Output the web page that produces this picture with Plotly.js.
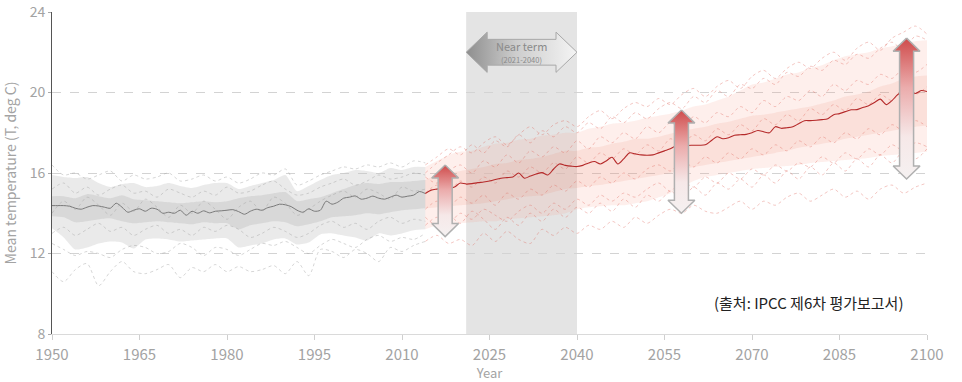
<!DOCTYPE html>
<html>
<head>
<meta charset="utf-8">
<script src="https://cdn.plot.ly/plotly-3.0.1.min.js"></script>
<style>html,body{margin:0;padding:0;background:#fff;}#chart{width:962px;height:382px;}</style>
</head>
<body>
<div id="chart"></div>
<script>
// ---------- DATA ----------
const xTickVals = [1950, 1965, 1980, 1995, 2010, 2025, 2040, 2055, 2070, 2085, 2100];
const yTickVals = [8, 12, 16, 20, 24];

const histStartYear = 1950;   // yearly mean, historical
const histMean = [14.38,14.38,14.38,14.35,14.25,14.2,14.3,14.38,14.36,14.3,
  14.25,14.5,14.3,14.05,14.15,14.22,14.1,14.25,14.2,14.0,
  14.05,14.0,14.15,13.9,14.1,14.0,14.12,14.02,14.1,14.12,
  14.15,14.18,14.08,13.95,14.1,14.2,14.15,14.28,14.35,14.45,
  14.42,14.33,14.15,14.05,14.22,14.1,14.15,14.6,14.45,14.55,
  14.75,14.8,14.86,14.7,14.75,14.85,14.75,14.7,14.8,14.9,
  14.8,14.85,14.9,15.08,14.98];

const futStartYear = 2014;    // yearly mean, projection
const futMean = [14.98,15.15,15.2,15.24,15.22,15.3,15.5,15.45,15.47,15.52,15.55,
  15.6,15.68,15.74,15.77,15.8,16.0,15.74,15.85,15.95,16.02,
  15.9,16.2,16.45,16.38,16.34,16.32,16.38,16.5,16.57,16.45,
  16.6,16.78,16.45,16.7,17.0,16.95,16.9,16.88,16.9,17.0,
  17.1,17.2,17.35,17.38,17.37,17.38,17.38,17.4,17.6,17.8,
  17.7,17.75,17.88,17.9,17.92,18.0,18.11,18.05,18.0,18.3,
  18.22,18.25,18.3,18.45,18.6,18.6,18.62,18.65,18.7,18.9,
  18.95,19.05,19.14,19.15,19.25,19.34,19.5,19.67,19.4,19.6,
  19.9,20.05,20.1,19.95,20.1,20.05];

// historical bands, every 2 years from 1950
const histOuterUp = [15.9,15.8,15.75,15.8,15.5,15.3,15.45,15.5,15.3,15.35,15.5,15.35,15.25,15.4,15.5,15.5,15.2,15.35,15.5,15.65,15.9,15.1,15.35,15.65,15.9,16.0,16.15,16.1,16.0,16.25,16.15,16.3,16.3];
const histOuterLo = [13.25,12.8,12.2,12.3,12.5,12.6,12.55,12.25,12.7,12.75,12.7,12.6,12.65,12.7,12.75,12.75,12.3,12.4,12.5,12.7,12.75,12.45,12.55,12.95,13.0,12.9,12.8,12.65,13.0,12.9,13.0,13.15,13.2];
const histInnerUp = [14.85,14.85,14.75,14.95,14.85,14.75,14.9,14.7,14.65,14.6,14.55,14.5,14.55,14.6,14.55,14.6,14.75,14.85,14.9,15.0,15.05,14.6,14.7,14.8,15.0,15.2,15.4,15.5,15.45,15.55,15.55,15.6,15.65];
const histInnerLo = [13.85,13.8,13.55,13.6,13.7,13.75,13.6,13.5,13.55,13.6,13.55,13.5,13.45,13.55,13.5,13.5,13.2,13.4,13.5,13.6,13.55,13.35,13.45,13.6,13.8,13.85,13.9,14.0,13.95,14.05,14.15,14.2,14.25];

// projection bands, every 2 years from 2014
const futOuterUp = [16.3,16.6,16.9,17.05,17.1,17.3,17.45,17.5,17.65,17.7,17.85,17.9,18.0,18.0,18.2,18.3,18.45,18.5,18.6,18.75,18.85,18.95,19.1,19.3,19.4,19.6,19.8,20.1,20.4,20.5,20.7,20.9,21.0,21.2,21.35,21.6,21.8,21.9,22.0,22.2,22.3,22.45,22.55,22.6];
const futOuterLo = [13.2,13.4,13.45,13.5,13.55,13.6,13.6,13.7,13.75,13.8,13.85,13.9,14.0,14.2,14.3,14.35,14.4,14.4,14.5,14.6,14.8,15.0,15.3,15.6,15.8,15.9,16.0,16.1,16.2,16.25,16.3,16.35,16.4,16.5,16.55,16.6,16.65,16.7,16.75,16.85,16.9,16.95,17.0,17.05];
const futInnerUp = [15.65,15.9,16.0,16.1,16.2,16.3,16.45,16.5,16.65,16.7,16.8,16.95,17.1,17.1,17.25,17.3,17.45,17.55,17.7,17.7,17.8,17.95,18.1,18.2,18.3,18.45,18.55,18.7,18.85,18.9,19.0,19.1,19.2,19.3,19.45,19.6,19.8,19.9,20.05,20.3,20.45,20.7,20.8,20.85];
const futInnerLo = [14.25,14.3,14.35,14.4,14.45,14.5,14.6,14.7,14.8,14.85,14.9,15.05,15.2,15.25,15.35,15.4,15.5,15.6,15.7,15.8,15.9,16.0,16.2,16.3,16.4,16.5,16.6,16.7,16.8,16.9,17.0,17.1,17.25,17.35,17.45,17.55,17.7,17.8,17.9,18.0,18.1,18.2,18.3,18.35];

// individual model runs (every 2 years)
const histRuns = [
  [11.1,10.6,11.2,11.5,10.4,11.1,11.6,11.1,11.0,11.2,11.45,10.8,11.3,11.1,11.45,11.1,11.35,11.1,11.2,11.4,11.0,11.6,10.9,12.2,12.1,11.8,12.2,12.0,11.6,12.3,12.1,12.4,12.6],
  [12.5,12.2,11.9,12.1,12.0,11.8,12.2,12.4,12.3,12.0,12.1,12.5,12.3,11.9,12.3,12.2,11.9,12.2,12.5,12.4,12.6,12.3,12.0,12.4,12.7,12.5,12.3,12.7,12.9,12.6,12.8,12.7,13.0],
  [16.4,15.9,16.0,15.7,15.9,16.1,15.6,15.9,15.7,15.8,16.0,15.6,15.7,15.9,15.6,15.8,15.5,15.7,16.0,15.9,16.2,15.4,15.6,15.9,16.1,16.3,16.2,16.4,16.3,16.5,16.3,16.6,16.5],
  [15.2,15.5,15.0,15.3,14.9,15.2,15.4,15.0,15.1,14.8,15.2,15.0,14.8,15.1,14.9,15.3,15.0,15.1,15.4,15.6,15.2,14.9,15.0,15.3,15.5,15.7,15.4,15.6,15.9,15.7,15.8,16.0,15.9],
  [13.0,13.3,12.9,13.2,13.5,13.1,13.3,12.9,13.2,13.4,13.0,13.2,12.9,13.3,13.1,13.4,13.2,12.8,13.0,13.3,13.1,12.8,13.0,13.4,13.6,13.3,13.5,13.2,13.6,13.8,13.5,13.7,13.6],
  [14.0,14.6,14.2,14.8,14.4,13.9,14.5,14.1,14.7,14.3,13.8,14.4,14.0,14.6,14.2,13.7,14.3,14.6,14.1,14.8,14.5,13.9,14.2,14.6,14.9,15.1,14.8,15.2,15.0,14.7,15.3,15.1,15.2]
];
const futRuns = [
  [12.6,12.9,12.5,12.7,12.4,13.0,12.6,13.1,12.7,12.5,13.2,12.9,13.3,13.0,13.4,13.2,13.6,13.3,13.8,13.5,13.9,14.2,14.0,14.4,14.1,14.0,14.3,14.6,14.2,14.6,14.4,14.8,15.0,14.6,14.9,15.2,14.8,15.1,14.7,15.2,15.4,15.0,15.3,15.5],
  [13.4,13.8,13.5,14.0,13.7,14.2,13.9,13.6,14.1,14.4,14.0,14.5,14.2,14.7,14.4,14.9,14.6,15.0,14.8,15.2,15.5,15.1,15.6,15.3,15.8,15.5,16.0,15.7,16.2,15.9,16.4,16.1,16.5,16.3,16.8,16.5,17.0,16.7,17.2,16.9,17.4,17.1,17.5,17.3],
  [16.4,16.8,17.2,16.9,17.4,17.0,17.6,17.3,17.9,17.5,18.1,17.8,18.3,18.0,18.5,18.2,18.8,18.5,19.0,18.7,19.2,19.5,19.2,19.8,19.5,20.1,19.8,20.4,20.2,20.7,20.4,21.0,20.8,21.3,21.1,21.6,21.4,21.9,21.7,22.2,22.5,22.1,22.8,22.6],
  [16.0,16.5,16.9,17.3,17.0,17.5,17.8,17.4,17.9,18.3,17.9,18.4,18.6,18.3,18.8,19.1,18.7,19.2,19.5,19.3,19.7,19.4,19.9,20.2,19.8,20.3,20.6,20.2,20.8,21.1,20.7,21.2,21.5,21.2,21.7,22.0,21.6,22.2,22.5,22.1,22.7,23.0,23.3,22.9],
  [15.0,15.4,15.1,15.6,15.3,15.8,15.5,16.1,15.8,16.3,16.0,16.5,16.2,16.8,16.5,17.0,16.7,17.2,16.9,17.4,17.1,17.7,17.4,17.9,17.6,18.2,17.9,18.4,18.1,18.7,18.4,18.9,18.6,19.2,18.9,19.4,19.1,19.7,19.4,19.9,19.6,20.2,19.9,20.3],
  [15.8,15.5,16.1,16.4,16.0,16.6,16.3,16.9,16.5,17.1,16.8,17.3,17.0,17.6,17.2,17.8,17.5,18.0,17.7,18.3,18.0,18.5,18.2,18.8,18.5,19.0,18.8,19.3,19.0,19.6,19.3,19.8,19.6,20.1,19.8,20.4,20.1,20.6,20.4,20.9,20.7,21.2,21.0,21.4],
  [14.2,14.6,14.3,14.8,14.5,14.9,14.4,15.0,14.7,15.2,14.9,15.4,15.1,15.6,15.3,15.8,15.5,16.0,15.7,16.2,16.4,16.1,16.6,16.3,16.8,16.5,17.0,16.7,17.2,16.9,17.4,17.1,17.6,17.3,17.8,17.5,18.0,17.7,18.2,17.9,18.4,18.1,18.6,18.3],
  [13.8,13.4,13.9,13.5,14.1,13.7,13.2,13.8,13.4,14.0,13.6,14.2,13.8,14.3,14.0,14.5,14.1,14.7,14.3,14.9,14.6,15.1,14.7,15.3,14.9,15.5,15.2,15.7,15.3,15.9,15.5,16.1,15.7,16.3,15.9,16.5,16.1,16.7,16.3,16.9,16.5,17.1,16.7,17.2]
];

// uncertainty range arrows: year, top, bottom
const rangeYears = [2017.4, 2057.9, 2096.5];
const rangeTop = [16.4, 19.13, 22.7];
const rangeBottom = [12.84, 14.0, 15.7];

// near-term window
const nearTermStart = 2021;
const nearTermEnd = 2040;
const nearTermLabel = 'Near term';
const nearTermSub = '(2021-2040)';
const sourceText = '(출처: IPCC 제6차 평가보고서)';
const xTitle = 'Year';
const yTitle = 'Mean temperature (T, deg C)';

// ---------- BUILD ----------
function years(start, n, step) { const a = []; for (let i = 0; i < n; i++) a.push(start + i * step); return a; }
const FONT = '"Noto Sans CJK KR", "Noto Sans", sans-serif';
const traces = [];

function band(xs, lo, hi, color) {
  traces.push({x: xs, y: lo, type: 'scatter', mode: 'lines', line: {width: 0, shape: 'spline', smoothing: 0.6}, hoverinfo: 'skip', showlegend: false});
  traces.push({x: xs, y: hi, type: 'scatter', mode: 'lines', fill: 'tonexty', fillcolor: color, line: {width: 0, shape: 'spline', smoothing: 0.6}, hoverinfo: 'skip', showlegend: false});
}

const hbX = years(1950, histOuterUp.length, 2);
const fbX = years(2014, futOuterUp.length, 2);

band(hbX, histOuterLo, histOuterUp, 'rgba(195,195,195,0.35)');
band(hbX, histInnerLo, histInnerUp, 'rgba(175,175,175,0.3)');
band(fbX, futOuterLo, futOuterUp, 'rgba(245,150,130,0.15)');
band(fbX, futInnerLo, futInnerUp, 'rgba(235,120,100,0.13)');

histRuns.forEach(r => traces.push({x: years(1950, r.length, 2), y: r, type: 'scatter', mode: 'lines',
  line: {color: 'rgba(160,160,160,0.55)', width: 0.8, dash: 'dot', shape: 'spline', smoothing: 0.8}, hoverinfo: 'skip', showlegend: false}));
futRuns.forEach(r => traces.push({x: years(2014, r.length, 2), y: r, type: 'scatter', mode: 'lines',
  line: {color: 'rgba(220,95,85,0.45)', width: 0.8, dash: 'dot', shape: 'spline', smoothing: 0.8}, hoverinfo: 'skip', showlegend: false}));

traces.push({x: years(histStartYear, histMean.length, 1), y: histMean, type: 'scatter', mode: 'lines',
  line: {color: '#7a7a7a', width: 1, shape: 'spline', smoothing: 0.8}, hoverinfo: 'skip', showlegend: false});
traces.push({x: years(futStartYear, futMean.length, 1), y: futMean, type: 'scatter', mode: 'lines',
  line: {color: '#b52a2a', width: 1.1, shape: 'spline', smoothing: 0.8}, hoverinfo: 'skip', showlegend: false});

// vertical double arrows
const HW = 2.3, SW = 1.2, HH = 0.65;
rangeYears.forEach((x, i) => {
  const T = rangeTop[i], B = rangeBottom[i];
  traces.push({
    x: [x, x + HW, x + SW, x + SW, x + HW, x, x - HW, x - SW, x - SW, x - HW, x],
    y: [T, T - HH, T - HH, B + HH, B + HH, B, B + HH, B + HH, T - HH, T - HH, T],
    type: 'scatter', mode: 'lines', fill: 'toself',
    fillgradient: {type: 'vertical', colorscale: [[0, '#f5f1f1'], [0.3, '#f6e8e8'], [0.65, '#ebacac'], [1, '#cf4b4b']]},
    line: {color: '#b0b0b0', width: 1.5}, hoverinfo: 'skip', showlegend: false
  });
});

// near-term horizontal arrow
(function () {
  const L = nearTermStart, R = nearTermEnd, yc = 22, hl = 3.6, hh = 1.0, sh = 0.64;
  traces.push({
    x: [L, L + hl, L + hl, R - hl, R - hl, R, R - hl, R - hl, L + hl, L + hl, L],
    y: [yc, yc + hh, yc + sh, yc + sh, yc + hh, yc, yc - hh, yc - sh, yc - sh, yc - hh, yc],
    type: 'scatter', mode: 'lines', fill: 'toself',
    fillgradient: {type: 'horizontal', colorscale: [[0, '#8e8e8e'], [0.45, '#cdcdcd'], [1, '#f4f4f4']]},
    line: {color: '#a8a8a8', width: 1}, hoverinfo: 'skip', showlegend: false
  });
})();

const layout = {
  width: 962, height: 382,
  margin: {l: 52, r: 35, t: 12, b: 48},
  paper_bgcolor: '#fff', plot_bgcolor: '#fff',
  font: {family: FONT, color: '#a0a0a0'},
  showlegend: false, hovermode: false,
  xaxis: {
    range: [1950, 2100], tickvals: xTickVals, ticks: 'outside', ticklen: 5, tickcolor: '#cfcfcf',
    showline: true, linecolor: '#dadada', linewidth: 1, showgrid: false, zeroline: false,
    tickfont: {size: 15, color: '#a3a3a3', family: FONT}, ticklabelstandoff: 2,
    title: {text: xTitle, font: {size: 13, color: '#a3a3a3', family: FONT}, standoff: 0}
  },
  yaxis: {
    range: [8, 24], tickvals: yTickVals, ticks: 'outside', ticklen: 3, tickcolor: '#aaa',
    showline: true, linecolor: '#555', linewidth: 1,
    showgrid: true, gridcolor: '#d3d3d3', griddash: 'dash', gridwidth: 1, zeroline: false,
    tickfont: {size: 14, color: '#a3a3a3', family: FONT},
    title: {text: yTitle, font: {size: 14, color: '#a3a3a3', family: FONT}, standoff: 9}
  },
  shapes: [{
    type: 'rect', xref: 'x', yref: 'paper', x0: nearTermStart, x1: nearTermEnd, y0: 0, y1: 1,
    fillcolor: '#e4e4e4', line: {width: 0}, layer: 'between'
  }],
  annotations: [
    {x: (nearTermStart + nearTermEnd) / 2, y: 22.3, xref: 'x', yref: 'y', text: nearTermLabel, showarrow: false,
     font: {size: 11, color: '#8a8a8a', family: FONT}},
    {x: (nearTermStart + nearTermEnd) / 2, y: 21.66, xref: 'x', yref: 'y', text: nearTermSub, showarrow: false,
     font: {size: 7.5, color: '#8a8a8a', family: FONT}},
    {x: 2096.3, y: 9.55, xref: 'x', yref: 'y', text: sourceText, showarrow: false, xanchor: 'right', yanchor: 'middle',
     font: {size: 15, color: '#222', family: FONT}}
  ]
};

Plotly.newPlot('chart', traces, layout, {staticPlot: true, displayModeBar: false});
</script>
</body>
</html>
